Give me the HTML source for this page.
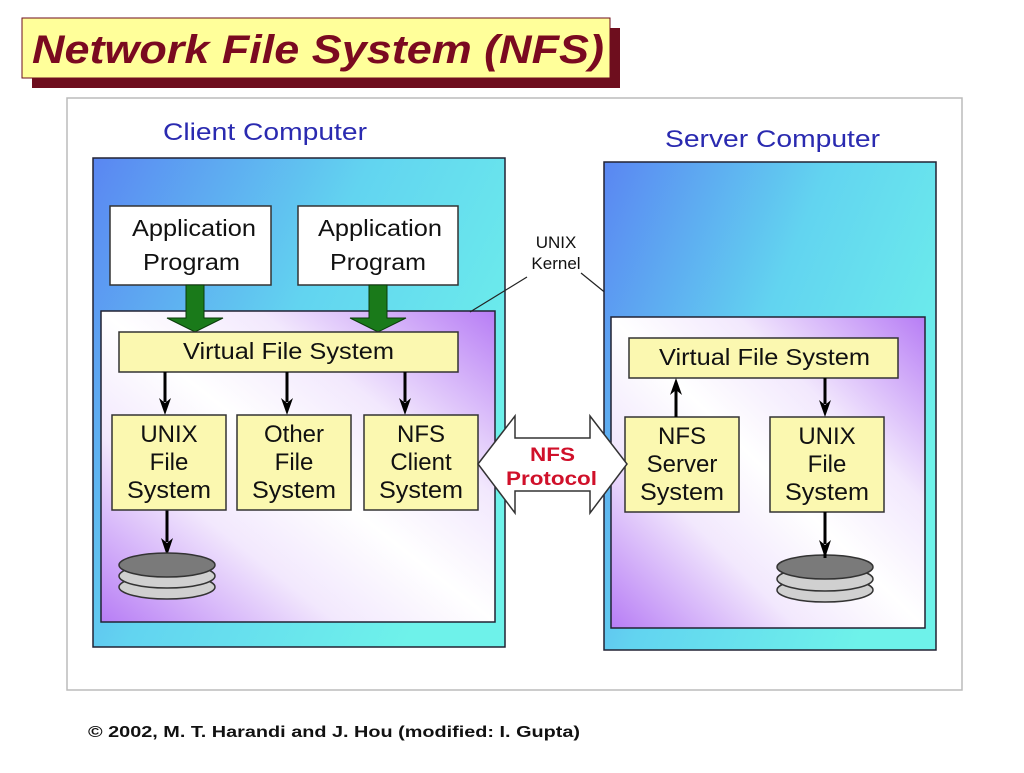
<!DOCTYPE html>
<html><head><meta charset="utf-8"><style>
html,body{margin:0;padding:0;background:#fff;}
svg, svg text{font-family:"Liberation Sans",Arial,Helvetica,sans-serif;}
</style></head><body>
<svg width="1024" height="768" viewBox="0 0 1024 768" xmlns="http://www.w3.org/2000/svg" font-family="Liberation Sans, Arial, sans-serif">
<defs>
<linearGradient id="blue" x1="0" y1="0" x2="1" y2="0.6">
<stop offset="0" stop-color="#5a86f2"/><stop offset="0.5" stop-color="#62d4f0"/><stop offset="1" stop-color="#6ef2ea"/></linearGradient>
<linearGradient id="purp" x1="0" y1="1" x2="1" y2="0">
<stop offset="0" stop-color="#b77df5"/><stop offset="0.3" stop-color="#f2e8fd"/><stop offset="0.5" stop-color="#ffffff"/><stop offset="0.7" stop-color="#f2e8fd"/><stop offset="1" stop-color="#b77df5"/></linearGradient>
</defs>
<!-- title -->
<rect x="32" y="28" width="588" height="60" fill="#6e0e1e"/>
<rect x="22" y="18" width="588" height="60" fill="#ffff9a" stroke="#6e0e1e" stroke-width="1"/>
<text x="32" y="63" font-size="40" font-style="italic" font-weight="bold" fill="#7a0a20" textLength="572" lengthAdjust="spacingAndGlyphs">Network File System (NFS)</text>
<rect x="67" y="98" width="895" height="592" fill="none" stroke="#bbb" stroke-width="1.5"/>
<text x="163" y="140" font-size="24" fill="#2a2ab0" textLength="204" lengthAdjust="spacingAndGlyphs">Client Computer</text>
<text x="665" y="147" font-size="24" fill="#2a2ab0" textLength="215" lengthAdjust="spacingAndGlyphs">Server Computer</text>
<!-- client -->
<rect x="93" y="158" width="412" height="489" fill="url(#blue)" stroke="#223" stroke-width="1.5"/>
<rect x="101" y="311" width="394" height="311" fill="url(#purp)" stroke="#223" stroke-width="1.5"/>
<rect x="110" y="206" width="161" height="79" fill="#fff" stroke="#333" stroke-width="1.5"/>
<rect x="298" y="206" width="160" height="79" fill="#fff" stroke="#333" stroke-width="1.5"/>
<g font-size="23" fill="#111">
<text x="132" y="236" textLength="124" lengthAdjust="spacingAndGlyphs">Application</text><text x="143" y="270" textLength="97" lengthAdjust="spacingAndGlyphs">Program</text>
<text x="318" y="236" textLength="124" lengthAdjust="spacingAndGlyphs">Application</text><text x="330" y="270" textLength="96" lengthAdjust="spacingAndGlyphs">Program</text>
</g>
<g fill="#1a7a1a" stroke="#0a3a0a" stroke-width="1">
<path d="M186,285 h18 v33 h19 l-28,14 l-28,-14 h19 z"/>
<path d="M369,285 h18 v33 h19 l-28,14 l-28,-14 h19 z"/>
</g>
<rect x="119" y="332" width="339" height="40" fill="#fbf8b0" stroke="#333" stroke-width="1.5"/>
<text x="183" y="359" font-size="23" fill="#111" textLength="211" lengthAdjust="spacingAndGlyphs">Virtual File System</text>
<g stroke="#000" stroke-width="3">
<line x1="165" y1="372" x2="165" y2="402"/><line x1="287" y1="372" x2="287" y2="402"/><line x1="405" y1="372" x2="405" y2="402"/>
<line x1="167" y1="510" x2="167" y2="542"/>
</g>
<g fill="#000">
<path d="M159,398 L165,415 L171,398 L165,403 Z"/>
<path d="M281,398 L287,415 L293,398 L287,403 Z"/>
<path d="M399,398 L405,415 L411,398 L405,403 Z"/>
<path d="M161,538 L167,556 L173,538 L167,543 Z"/>
</g>
<g fill="#fbf8b0" stroke="#333" stroke-width="1.5">
<rect x="112" y="415" width="114" height="95"/><rect x="237" y="415" width="114" height="95"/><rect x="364" y="415" width="114" height="95"/>
</g>
<g font-size="24" text-anchor="middle" fill="#111">
<text x="169" y="442">UNIX</text><text x="169" y="470">File</text><text x="169" y="498" textLength="84" lengthAdjust="spacingAndGlyphs">System</text>
<text x="294" y="442">Other</text><text x="294" y="470">File</text><text x="294" y="498" textLength="84" lengthAdjust="spacingAndGlyphs">System</text>
<text x="421" y="442">NFS</text><text x="421" y="470">Client</text><text x="421" y="498" textLength="84" lengthAdjust="spacingAndGlyphs">System</text>
</g>
<g stroke="#333" stroke-width="1.5">
<ellipse cx="167" cy="587" rx="48" ry="12" fill="#d0d0d0"/>
<ellipse cx="167" cy="576" rx="48" ry="12" fill="#d0d0d0"/>
<ellipse cx="167" cy="565" rx="48" ry="12" fill="#7a7a7a"/>
</g>
<!-- kernel -->
<g font-size="17" text-anchor="middle" fill="#111">
<text x="556" y="248">UNIX</text>
<text x="556" y="269">Kernel</text>
</g>
<line x1="527" y1="277" x2="470" y2="312" stroke="#222" stroke-width="1.2"/>
<line x1="581" y1="273" x2="634" y2="316" stroke="#222" stroke-width="1.2"/>
<!-- server -->
<rect x="604" y="162" width="332" height="488" fill="url(#blue)" stroke="#223" stroke-width="1.5"/>
<rect x="611" y="317" width="314" height="311" fill="url(#purp)" stroke="#223" stroke-width="1.5"/>
<rect x="629" y="338" width="269" height="40" fill="#fbf8b0" stroke="#333" stroke-width="1.5"/>
<text x="659" y="365" font-size="23" fill="#111" textLength="211" lengthAdjust="spacingAndGlyphs">Virtual File System</text>
<g fill="#fbf8b0" stroke="#333" stroke-width="1.5">
<rect x="625" y="417" width="114" height="95"/><rect x="770" y="417" width="114" height="95"/>
</g>
<g font-size="24" text-anchor="middle" fill="#111">
<text x="682" y="444">NFS</text><text x="682" y="472">Server</text><text x="682" y="500" textLength="84" lengthAdjust="spacingAndGlyphs">System</text>
<text x="827" y="444">UNIX</text><text x="827" y="472">File</text><text x="827" y="500" textLength="84" lengthAdjust="spacingAndGlyphs">System</text>
</g>
<g stroke="#000" stroke-width="3">
<line x1="676" y1="417" x2="676" y2="390"/>
<line x1="825" y1="378" x2="825" y2="404"/>
<line x1="825" y1="512" x2="825" y2="544"/>
</g>
<g fill="#000">
<path d="M670,395 L676,378 L682,395 L676,390 Z"/>
<path d="M819,400 L825,417 L831,400 L825,405 Z"/>
<path d="M819,540 L825,558 L831,540 L825,545 Z"/>
</g>
<g stroke="#333" stroke-width="1.5">
<ellipse cx="825" cy="590" rx="48" ry="12" fill="#d0d0d0"/>
<ellipse cx="825" cy="579" rx="48" ry="12" fill="#d0d0d0"/>
<ellipse cx="825" cy="567" rx="48" ry="12" fill="#7a7a7a"/>
</g>
<line x1="825" y1="550" x2="825" y2="558" stroke="#000" stroke-width="3"/>
<!-- protocol arrow -->
<path d="M478,464 L515,416 L515,438 L590,438 L590,416 L627,464 L590,513 L590,491 L515,491 L515,513 Z" fill="#fff" stroke="#333" stroke-width="1.5"/>
<g font-size="19" font-weight="bold" fill="#d0102a">
<text x="530" y="461" textLength="45" lengthAdjust="spacingAndGlyphs">NFS</text>
<text x="506" y="485" textLength="91" lengthAdjust="spacingAndGlyphs">Protocol</text>
</g>
<text x="88" y="737" font-size="16" font-weight="bold" fill="#111" textLength="492" lengthAdjust="spacingAndGlyphs">© 2002, M. T. Harandi and J. Hou (modified: I. Gupta)</text>
</svg>
</body></html>
